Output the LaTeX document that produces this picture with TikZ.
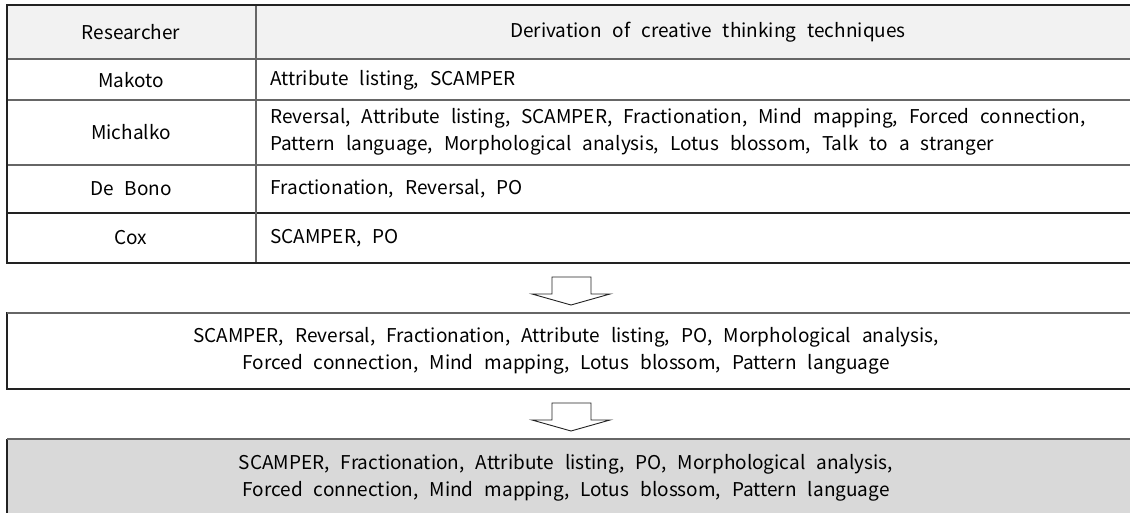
\documentclass[tikz,border=0pt]{standalone}
\usepackage{fontspec}
\setmainfont[WordSpace=2.6]{Noto Sans CJK KR}
\definecolor{hdrfill}{HTML}{F2F2F2}
\definecolor{boxfill}{HTML}{D9D9D9}
\definecolor{linedark}{HTML}{222222}
\definecolor{linegray}{HTML}{666666}
\begin{document}
\begin{tikzpicture}[x=0.5pt,y=-0.5pt,
  txt/.style={font=\fontsize{9.5}{13.5}\selectfont, inner sep=0pt},
  outer/.style={draw=linedark, line width=0.6pt},
  inner/.style={draw=linegray, line width=0.55pt},
  blockarrow/.style={draw=linedark, fill=white, line width=0.45pt, line join=miter}]
\useasboundingbox (0,0) rectangle (1130,513);
% table
\fill[hdrfill] (7,5) rectangle (1130,59);
\draw[inner] (7,59) -- (1130,59);
\draw[inner] (7,100) -- (1130,100);
\draw[inner] (7,165) -- (1130,165);
\draw[outer] (7,213) -- (1130,213);
\draw[inner] (256,5) -- (256,263);
\draw[outer] (1130,5) -- (7,5) -- (7,263) -- (1130,263);
% text
\node[txt] (hR) at (131,32) {Researcher};
\node[txt] (hD) at (708,32) {Derivation of creative thinking techniques};
\node[txt] (r1) at (131,80) {Makoto};
\node[txt,anchor=west] (t1) at (270,80) {Attribute listing, SCAMPER};
\node[txt] (r2) at (131,132) {Michalko};
\node[txt,anchor=west,align=left] (t2) at (270,132) {Reversal, Attribute listing, SCAMPER, Fractionation, Mind mapping, Forced connection,\\Pattern language, Morphological analysis, Lotus blossom, Talk to a stranger};
\node[txt] (r3) at (131,189) {De Bono};
\node[txt,anchor=west] (t3) at (270,189) {Fractionation, Reversal, PO};
\node[txt] (r4) at (131,238) {Cox};
\node[txt,anchor=west] (t4) at (270,238) {SCAMPER, PO};
% box 1
\draw[outer] (1130,313) -- (7,313) -- (7,389) -- (1130,389);
\draw[draw=linegray, line width=0.6pt] (7,313) -- (1130,313);
\node[txt,align=center] (b1) at (566,351) {SCAMPER, Reversal, Fractionation, Attribute listing, PO, Morphological analysis,\\Forced connection, Mind mapping, Lotus blossom, Pattern language};
% box 2
\fill[boxfill] (7,439) rectangle (1130,513);
\draw[outer] (7,513) -- (7,439);
\draw[draw=linegray, line width=1pt] (7,439) -- (1130,439);
\node[txt,align=center] (b2) at (566,478) {SCAMPER, Fractionation, Attribute listing, PO, Morphological analysis,\\Forced connection, Mind mapping, Lotus blossom, Pattern language};
% block arrows
\draw[blockarrow] (552,277) -- (591,277) -- (591,294) -- (610,294) -- (571,305) -- (532,294) -- (552,294) -- cycle;
\draw[blockarrow] (552,403) -- (591,403) -- (591,420) -- (610,420) -- (571,431) -- (532,420) -- (552,420) -- cycle;
\end{tikzpicture}
\end{document}
